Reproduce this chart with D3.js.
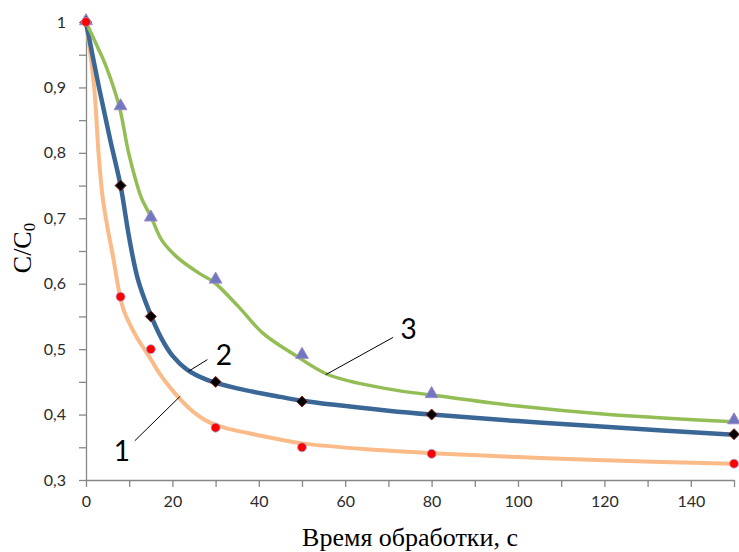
<!DOCTYPE html>
<html lang="ru">
<head>
<meta charset="UTF-8">
<title>C/C0</title>
<script src="https://cdn.jsdelivr.net/npm/d3@7"></script>
<style>
  body { margin: 0; background: #fff; }
  .axis path, .axis line { stroke: #878787; stroke-width: 1.3; }
  .axis text { font-family: Lato, "Open Sans", sans-serif; font-size: 16px; fill: #2b2b2b; }
</style>
</head>
<body>
<script>
var width = 739, height = 552;
var margin = {left: 86, right: 5, top: 22, bottom: 72};

// точки эксперимента
var times = [0, 8, 15, 30, 50, 80, 150];
var s1 = [1, 0.58, 0.50, 0.38, 0.35, 0.34, 0.325];
var s2 = [1, 0.75, 0.55, 0.45, 0.42, 0.40, 0.37];
var s3 = [1, 0.87, 0.70, 0.605, 0.49, 0.43, 0.39];

// сглаженные кривые
var c1x = [0, 1.9, 2.9, 3.8, 5, 6.3, 7.6, 8.6, 10, 12, 14.5, 17, 20, 24, 28, 32, 38, 44, 50, 65, 80, 100, 120, 150];
var c1y = [1, 0.9, 0.8, 0.735, 0.685, 0.64, 0.59, 0.562, 0.54, 0.515, 0.49, 0.463, 0.437, 0.409, 0.39, 0.38, 0.371, 0.363, 0.356, 0.347, 0.341, 0.335, 0.33, 0.325];
var c2x = [0, 3, 5.6, 8, 10, 12, 14.5, 17.5, 20, 23.3, 28, 35, 45, 50, 70, 80, 100, 121, 150];
var c2y = [1, 0.9, 0.82, 0.75, 0.67, 0.607, 0.56, 0.516, 0.49, 0.469, 0.453, 0.44, 0.427, 0.421, 0.406, 0.4, 0.39, 0.381, 0.369];
var c3x = [0, 2.3, 4.6, 7.7, 9.8, 11.7, 12.9, 15.2, 17.5, 21, 26.4, 29.5, 35.3, 41, 48.8, 55.7, 63, 72, 80, 100, 121, 150];
var c3y = [1, 0.967, 0.933, 0.871, 0.802, 0.754, 0.73, 0.7, 0.667, 0.641, 0.615, 0.603, 0.565, 0.524, 0.489, 0.462, 0.448, 0.437, 0.43, 0.413, 0.4, 0.389];

var xTicks = [0, 20, 40, 60, 80, 100, 120, 140];
var yTicks = [0.3, 0.4, 0.5, 0.6, 0.7, 0.8, 0.9, 1];

// подписи кривых: номер, положение текста, начало и конец выноски
var labels = ["1", "2", "3"];
var labelPos = [[8.3, 0.346], [31.9, 0.492], [74.7, 0.532]];
var leadFrom = [[11.3, 0.36], [23.7, 0.466], [55.5, 0.461]];
var leadTo = [[21.8, 0.428], [28.1, 0.484], [71.1, 0.518]];

var svg = d3.select("body").append("svg")
    .attr("width", width)
    .attr("height", height);

var x = d3.scaleLinear().domain([0, 150]).range([margin.left, width - margin.right]);
var y = d3.scaleLinear().domain([0.3, 1]).range([height - margin.bottom, margin.top]);

var fmt = function (d) { return d === 1 ? "1" : d3.format(".1f")(d).replace(".", ","); };

// ось X
svg.append("g")
    .attr("class", "axis")
    .attr("transform", "translate(0," + y(0.3) + ")")
    .call(d3.axisBottom(x).tickValues(d3.range(0, 151, 10)).tickSizeInner(7).tickSizeOuter(0).tickPadding(9)
        .tickFormat(function (d) { return xTicks.indexOf(d) >= 0 ? d : ""; }));

// ось Y
svg.append("g")
    .attr("class", "axis")
    .attr("transform", "translate(" + x(0) + ",0)")
    .call(d3.axisLeft(y).tickValues(d3.range(0.3, 1.001, 0.05).map(function (v) { return +v.toFixed(2); }))
        .tickSizeInner(7).tickSizeOuter(0).tickPadding(13)
        .tickFormat(function (d) {
            var r = yTicks.filter(function (t) { return Math.abs(t - d) < 1e-6; });
            return r.length ? fmt(r[0]) : "";
        }));

var line = d3.line()
    .x(function (d) { return x(d[0]); })
    .y(function (d) { return y(d[1]); })
    .curve(d3.curveCatmullRom.alpha(0.5));

var curves = [
    {xs: c1x, ys: c1y, color: "#fbbb88", w: 4},
    {xs: c2x, ys: c2y, color: "#3b6796", w: 4.5},
    {xs: c3x, ys: c3y, color: "#93bd55", w: 3.5}
];
curves.forEach(function (c) {
    svg.append("path")
        .attr("d", line(d3.zip(c.xs, c.ys)))
        .attr("fill", "none")
        .attr("stroke", c.color)
        .attr("stroke-width", c.w)
        .attr("stroke-linejoin", "round");
});

// маркеры
svg.append("g").selectAll("path")
    .data(d3.zip(times, s3))
    .enter().append("path")
    .attr("d", d3.symbol().type(d3.symbolTriangle).size(70))
    .attr("transform", function (d) { return "translate(" + x(d[0]) + "," + (y(d[1]) - 1) + ")"; })
    .attr("fill", "#6f78c0")
    .attr("stroke", "#9b86c6")
    .attr("stroke-width", 1);

svg.append("g").selectAll("path")
    .data(d3.zip(times, s2))
    .enter().append("path")
    .attr("d", "M0,-5.5L5.5,0L0,5.5L-5.5,0Z")
    .attr("transform", function (d) { return "translate(" + x(d[0]) + "," + y(d[1]) + ")"; })
    .attr("fill", "#000")
    .attr("stroke", "#8a2020")
    .attr("stroke-width", 1);

svg.append("g").selectAll("circle")
    .data(d3.zip(times, s1))
    .enter().append("circle")
    .attr("cx", function (d) { return x(d[0]); })
    .attr("cy", function (d) { return y(d[1]); })
    .attr("r", 4.5)
    .attr("fill", "#ff0000")
    .attr("stroke", "#a8a8e0")
    .attr("stroke-width", 0.8);

// выноски
labels.forEach(function (t, i) {
    svg.append("line")
        .attr("x1", x(leadFrom[i][0])).attr("y1", y(leadFrom[i][1]))
        .attr("x2", x(leadTo[i][0])).attr("y2", y(leadTo[i][1]))
        .attr("stroke", "#000").attr("stroke-width", 1);
    svg.append("text")
        .attr("x", x(labelPos[i][0])).attr("y", y(labelPos[i][1]))
        .attr("text-anchor", "middle")
        .attr("dominant-baseline", "central")
        .style("font-family", "Lato, 'Open Sans', sans-serif")
        .style("font-size", "28px")
        .text(t);
});

// подписи осей
svg.append("text")
    .attr("x", 410).attr("y", 546)
    .attr("text-anchor", "middle")
    .style("font-family", "'Liberation Serif', serif")
    .style("font-size", "26px")
    .text("Время обработки, с");

var yt = svg.append("text")
    .attr("transform", "translate(31,248) rotate(-90)")
    .attr("text-anchor", "middle")
    .style("font-family", "'Liberation Serif', serif")
    .style("font-size", "26px");
yt.append("tspan").text("C/C");
yt.append("tspan").attr("font-size", "17px").attr("dy", 4).text("0");
</script>
</body>
</html>
